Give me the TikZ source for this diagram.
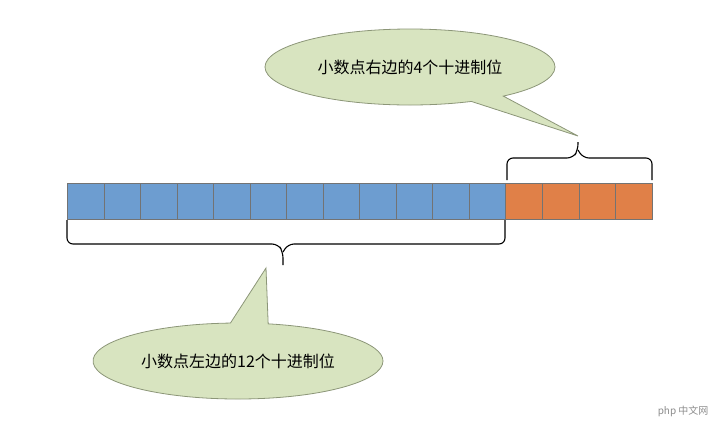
\documentclass[tikz,border=0pt]{standalone}
\usepackage{fontspec}
\newfontfamily\cjk{Noto Sans CJK SC}
\usetikzlibrary{shapes.callouts}
\definecolor{cblue}{RGB}{109,157,208}
\definecolor{corange}{RGB}{224,128,72}
\definecolor{cgreen}{RGB}{216,228,192}
\definecolor{cgreenb}{RGB}{140,150,120}
\begin{document}
\begin{tikzpicture}[x=1pt,y=-1pt,
  cell/.style={draw=black!55,line width=0.6pt,minimum width=36.5pt,minimum height=36pt,inner sep=0,anchor=north west},
  call/.style={ellipse callout,draw=cgreenb,fill=cgreen,line width=0.8pt,font=\cjk\fontsize{16}{19}\selectfont,minimum width=290pt,minimum height=76pt},
  br/.style={line width=1.1pt,rounded corners=6pt}]
\useasboundingbox (0,0) rectangle (725,424);
\foreach \i in {0,...,11}{\node[cell,fill=cblue] (b\i) at ({67+36.5*\i},183) {};}
\foreach \i in {0,...,3}{\node[cell,fill=corange,minimum width=36.75pt] (o\i) at ({505+36.75*\i},183) {};}
\coordinate (tl) at (507,180); \coordinate (tr) at (652,180);
\draw[br] (tl) -- (507,158) -- (573,158) -- (578,150) [sharp corners] -- (578,142);
\draw[br] (tr) -- (652,158) -- (583,158) -- (578,150);
\coordinate (bl) at (67,220); \coordinate (bR) at (505,220);
\draw[br] (bl) -- (67,244) -- (278,244) -- (283,252) [sharp corners] -- (283,265);
\draw[br] (bR) -- (505,244) -- (288,244) -- (283,252);
\node[call,callout absolute pointer={(578,136)}] (c1) at (410,67) {小数点右边的4个十进制位};
\node[call,callout absolute pointer={(266,268)}] (c2) at (238,361) {小数点左边的12个十进制位};
\node[font=\cjk\fontsize{10}{12}\selectfont,text=black!45,anchor=east] (wm) at (712,411) {php 中文网};
\end{tikzpicture}
\end{document}
